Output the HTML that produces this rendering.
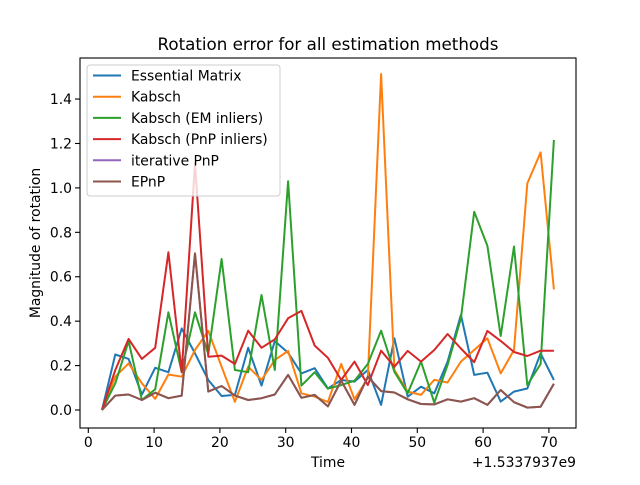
<!DOCTYPE html>
<html><head><meta charset="utf-8"><style>
body{margin:0;background:#fff;font-family:"Liberation Sans","DejaVu Sans",sans-serif}
svg text{font-family:"DejaVu Sans","Liberation Sans",sans-serif;fill:#000}
</style></head><body>
<svg id="chart" width="640" height="480" xmlns="http://www.w3.org/2000/svg">
<rect width="640" height="480" fill="#fff"/>
<text x="328" y="50" font-size="16.7" text-anchor="middle">Rotation error for all estimation methods</text>
<g id="plot"></g>
<rect x="80" y="58" width="496" height="370" fill="none" stroke="#000" stroke-width="1.1"/>
<g id="axes"></g>
<text x="328" y="467" font-size="13.9" text-anchor="middle">Time</text>
<text x="576" y="467" font-size="13.9" text-anchor="end">+1.5337937e9</text>
<text transform="translate(40,243) rotate(-90)" font-size="13.9" text-anchor="middle">Magnitude of rotation</text>
<g id="legend"></g>
</svg>
<script>
const times = [];
for (let i = 0; i < 35; i++) times.push(2.08 + 2.02 * i);
const essential = [0,0.25,0.23,0.07,0.19,0.17,0.367,0.255,0.135,0.063,0.068,0.28,0.11,0.31,0.258,0.165,0.188,0.097,0.135,0.128,0.18,0.023,0.323,0.06,0.105,0.075,0.218,0.428,0.158,0.168,0.038,0.083,0.097,0.255,0.135];
const kabsch = [0,0.15,0.21,0.12,0.05,0.16,0.15,0.27,0.356,0.195,0.037,0.195,0.135,0.225,0.266,0.075,0.06,0.036,0.207,0.048,0.143,1.513,0.18,0.083,0.068,0.136,0.124,0.218,0.27,0.323,0.165,0.27,1.02,1.16,0.543];
const kabschEM = [0,0.12,0.31,0.045,0.093,0.44,0.17,0.44,0.252,0.68,0.18,0.17,0.518,0.18,1.03,0.11,0.17,0.096,0.112,0.132,0.207,0.357,0.172,0.075,0.218,0.033,0.203,0.413,0.893,0.739,0.333,0.736,0.112,0.207,1.216];
const kabschPnP = [0,0.18,0.32,0.23,0.28,0.71,0.17,1.11,0.24,0.245,0.207,0.357,0.28,0.318,0.413,0.446,0.29,0.235,0.135,0.218,0.112,0.267,0.195,0.266,0.218,0.27,0.342,0.277,0.215,0.356,0.311,0.261,0.243,0.267,0.267];
const iterPnP = [0,0.065,0.07,0.045,0.078,0.053,0.065,0.705,0.083,0.108,0.065,0.045,0.053,0.07,0.158,0.055,0.068,0.016,0.132,0.023,0.15,0.085,0.079,0.048,0.027,0.025,0.048,0.038,0.053,0.023,0.09,0.035,0.011,0.015,0.118];
const epnp = [0,0.065,0.07,0.045,0.078,0.053,0.065,0.705,0.083,0.108,0.065,0.045,0.053,0.07,0.158,0.055,0.068,0.016,0.132,0.023,0.15,0.085,0.079,0.048,0.027,0.025,0.048,0.038,0.053,0.023,0.09,0.035,0.011,0.015,0.118];
const seriesNames = ["Essential Matrix","Kabsch","Kabsch (EM inliers)","Kabsch (PnP inliers)","iterative PnP","EPnP"];
const xTicks = [0,10,20,30,40,50,60,70];
const yTicks = [0,0.2,0.4,0.6,0.8,1.0,1.2,1.4];

const NS = "http://www.w3.org/2000/svg";
const sx = t => 88.3 + 6.58 * t;
const sy = v => 410 - 222.1 * v;
const colors = ["#1f77b4","#ff7f0e","#2ca02c","#d62728","#9467bd","#8c564b"];
const allSeries = [essential,kabsch,kabschEM,kabschPnP,iterPnP,epnp];
const plot = document.getElementById("plot");
allSeries.forEach((s, k) => {
  const p = document.createElementNS(NS, "polyline");
  p.setAttribute("points", s.map((v, i) => sx(times[i]).toFixed(1) + "," + sy(v).toFixed(1)).join(" "));
  p.setAttribute("fill", "none");
  p.setAttribute("stroke", colors[k]);
  p.setAttribute("stroke-width", "2");
  p.setAttribute("stroke-linejoin", "round");
  
  
  plot.appendChild(p);
});
const axes = document.getElementById("axes");
xTicks.forEach(t => {
  const l = document.createElementNS(NS, "line");
  l.setAttribute("x1", sx(t)); l.setAttribute("x2", sx(t));
  l.setAttribute("y1", 428); l.setAttribute("y2", 433);
  l.setAttribute("stroke", "#000"); l.setAttribute("stroke-width", "1.1");
  
  
  axes.appendChild(l);
  const tx = document.createElementNS(NS, "text");
  tx.setAttribute("x", sx(t)); tx.setAttribute("y", 447);
  tx.setAttribute("font-size", "13.9"); tx.setAttribute("text-anchor", "middle");
  tx.textContent = String(t);
  
  
  axes.appendChild(tx);
});
yTicks.forEach(t => {
  const l = document.createElementNS(NS, "line");
  l.setAttribute("x1", 75); l.setAttribute("x2", 80);
  l.setAttribute("y1", sy(t)); l.setAttribute("y2", sy(t));
  l.setAttribute("stroke", "#000"); l.setAttribute("stroke-width", "1.1");
  
  
  axes.appendChild(l);
  const tx = document.createElementNS(NS, "text");
  tx.setAttribute("x", 72); tx.setAttribute("y", sy(t) + 5);
  tx.setAttribute("font-size", "13.9"); tx.setAttribute("text-anchor", "end");
  tx.textContent = t.toFixed(1);
  
  
  axes.appendChild(tx);
});
const lg = document.getElementById("legend");
const box = document.createElementNS(NS, "rect");
box.setAttribute("x", 87); box.setAttribute("y", 65); box.setAttribute("width", 193); box.setAttribute("height", 131);
box.setAttribute("rx", 3); box.setAttribute("fill", "#fff"); box.setAttribute("fill-opacity", "0.8");
box.setAttribute("stroke", "#ccc"); box.setAttribute("stroke-width", "1");


lg.appendChild(box);
seriesNames.forEach((n, k) => {
  const y = 75.5 + k * 21.2;
  const l = document.createElementNS(NS, "line");
  l.setAttribute("x1", 93); l.setAttribute("x2", 121); l.setAttribute("y1", y); l.setAttribute("y2", y);
  l.setAttribute("stroke", colors[k]); l.setAttribute("stroke-width", "2");
  
  
  lg.appendChild(l);
  const tx = document.createElementNS(NS, "text");
  tx.setAttribute("x", 131); tx.setAttribute("y", y + 5); tx.setAttribute("font-size", "13.9");
  tx.textContent = n;
  
  
  lg.appendChild(tx);
});
</script>
</body></html>
